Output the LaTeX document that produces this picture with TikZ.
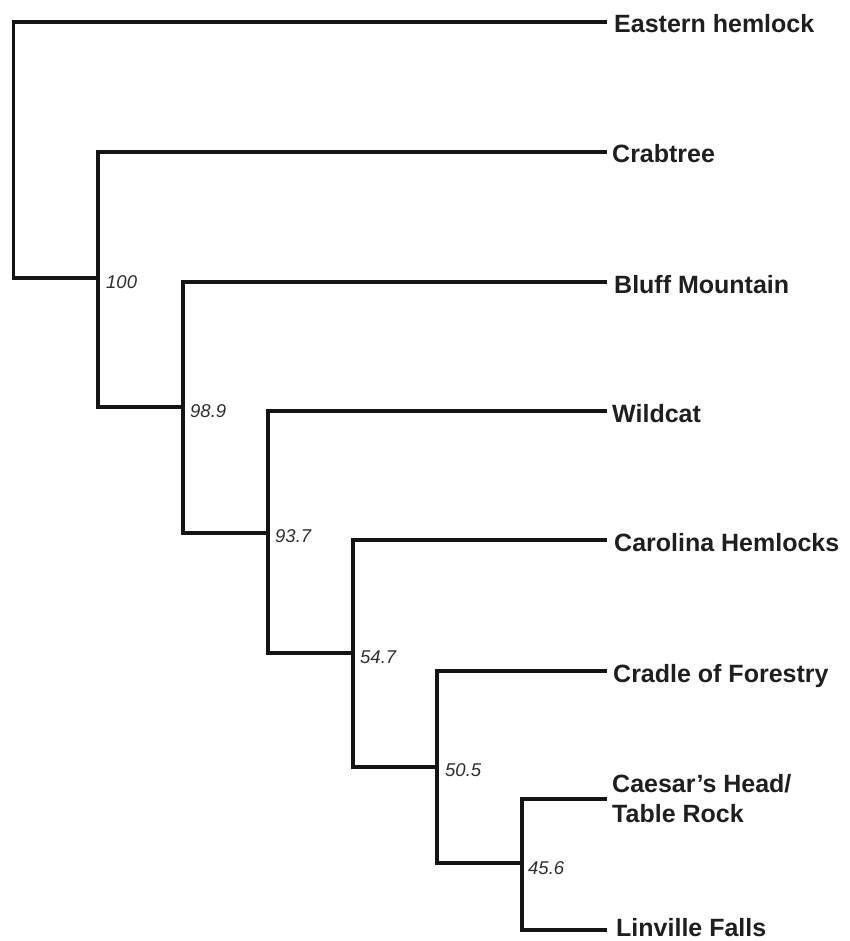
\documentclass[tikz,border=0pt]{standalone}
\usepackage{fontspec}
\setmainfont{Liberation Sans}
\begin{document}
\begin{tikzpicture}[x=1pt,y=-1pt,
  branch/.style={line width=3.1pt,draw=black!92,line join=miter},
  leaflbl/.style={anchor=west,inner sep=0pt,text=black!88,
    font=\fontsize{25}{30}\selectfont\bfseries,text height=18pt,text depth=0pt},
  leaflbl2/.style={anchor=west,inner sep=0pt,text=black!88,align=left,
    font=\fontsize{25}{30}\selectfont\bfseries},
  boot/.style={anchor=west,inner sep=0pt,text=black!82,
    font=\fontsize{18.5}{20}\selectfont\itshape,text height=13pt,text depth=0pt}]
\useasboundingbox (0,0) rectangle (850,941);
% leaf line ends
\coordinate (eh)  at (607,22);
\coordinate (cr)  at (607,152);
\coordinate (bm)  at (607,282);
\coordinate (wc)  at (607,411);
\coordinate (ch)  at (607,540);
\coordinate (cf)  at (607,671);
\coordinate (cae) at (607,799);
\coordinate (lf)  at (607,930);
% internal nodes
\coordinate (r)  at (13.5,278);
\coordinate (n1) at (98,278);
\coordinate (n2) at (183,407);
\coordinate (n3) at (268,533);
\coordinate (n4) at (353,653);
\coordinate (n5) at (437,767);
\coordinate (n6) at (522,863);
% branches
\draw[branch] (eh) -| (r) -- (n1);
\draw[branch] (cr) -| (n1) |- (n2);
\draw[branch] (bm) -| (n2) |- (n3);
\draw[branch] (wc) -| (n3) |- (n4);
\draw[branch] (ch) -| (n4) |- (n5);
\draw[branch] (cf) -| (n5) |- (n6);
\draw[branch] (cae) -| (n6) |- (lf);
% leaf labels
\node[leaflbl] (Leh) at (614,24) {Eastern hemlock};
\node[leaflbl] (Lcr) at (612,154) {Crabtree};
\node[leaflbl] (Lbm) at (614,284) {Bluff Mountain};
\node[leaflbl] (Lwc) at (612,413) {Wildcat};
\node[leaflbl] (Lch) at (614,542) {Carolina Hemlocks};
\node[leaflbl] (Lcf) at (613,673) {Cradle of Forestry};
\node[leaflbl2] (Lcae) at (612,799) {Caesar’s Head/\\Table Rock};
\node[leaflbl] (Llf) at (616,927) {Linville Falls};
% bootstrap values
\node[boot] (b1) at ([shift={(8pt,-4pt)}]n1) {100};
\node[boot] (b2) at ([shift={(7pt,-4pt)}]n2) {98.9};
\node[boot] (b3) at ([shift={(7pt,-3pt)}]n3) {93.7};
\node[boot] (b4) at ([shift={(7pt,-4pt)}]n4) {54.7};
\node[boot] (b5) at ([shift={(8pt,-3pt)}]n5) {50.5};
\node[boot] (b6) at ([shift={(6pt,-5pt)}]n6) {45.6};
\end{tikzpicture}
\end{document}
